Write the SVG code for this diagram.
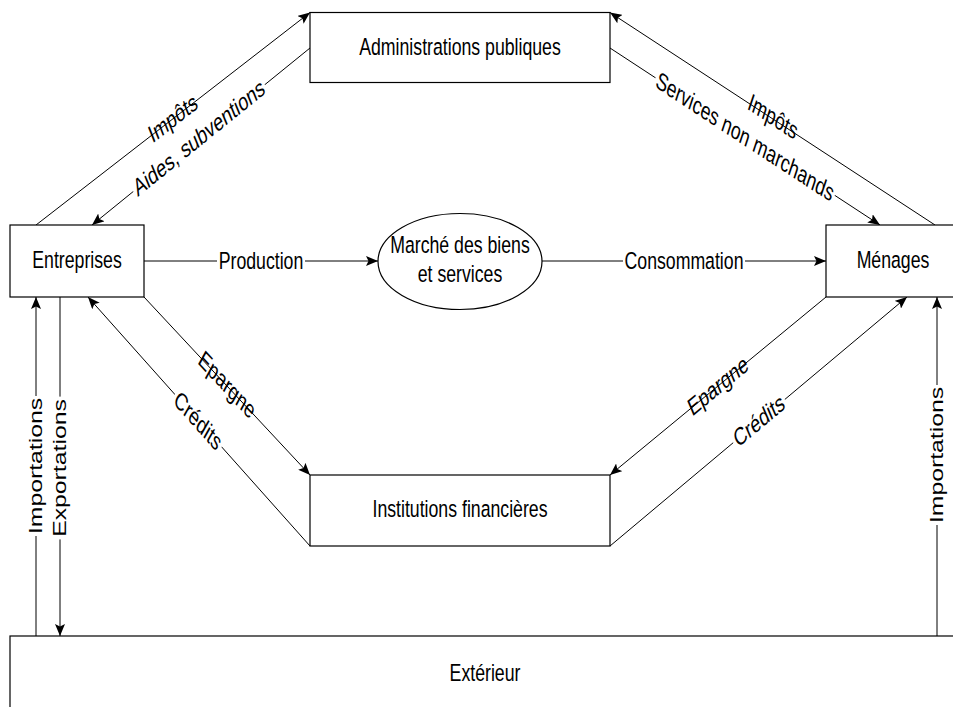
<svg xmlns="http://www.w3.org/2000/svg" width="953" height="707" viewBox="0 0 953 707">
<defs>
<marker id="arr" viewBox="0 0 12 10" refX="12" refY="5" markerWidth="12" markerHeight="10" markerUnits="userSpaceOnUse" orient="auto">
<path d="M0,0 L12,5 L0,10 L2.5,5 z" fill="#000"/>
</marker>
<style>
.box{fill:#fff;stroke:#000;stroke-width:1.2}
.edge{fill:none;stroke:#000;stroke-width:1;marker-end:url(#arr)}
text{font-family:"Liberation Sans",Arial,Helvetica,sans-serif;font-size:17.7px;fill:#000}
.lbl{text-anchor:middle;dominant-baseline:central}
.nt{text-anchor:middle}
.bg{fill:#fff;stroke:none}
</style>
</defs>
<rect width="953" height="707" fill="#fff"/>
<g id="connectors">
<path class="edge" d="M36,225 L310,12.5"/>
<path class="edge" d="M310,48 L92,225"/>
<path class="edge" d="M935,225 L610,12.5"/>
<path class="edge" d="M610,48 L880,225"/>
<path class="edge" d="M144,261 L378,261"/>
<path class="edge" d="M542,261 L826,261"/>
<path class="edge" d="M144,297 L310,475"/>
<path class="edge" d="M310,546 L88,297"/>
<path class="edge" d="M826,297 L610,475"/>
<path class="edge" d="M610,546 L907,297"/>
<path class="edge" d="M36,636 L36,297"/>
<path class="edge" d="M60,297 L60,636"/>
<path class="edge" d="M937,636 L937,297"/>
<g transform="translate(173,118.5) scale(1,1.4) rotate(-29)"><text class="lbl">Impôts</text></g>
<g transform="translate(199,138) scale(1,1.4) rotate(-30.1)"><rect class="bg" x="-76" y="-10" width="152" height="20"/><text class="lbl">Aides, subventions</text></g>
<g transform="translate(773,117) scale(1,1.4) rotate(25.3)"><text class="lbl">Impôts</text></g>
<g transform="translate(745,137) scale(1,1.4) rotate(25.1)"><rect class="bg" x="-99" y="-10" width="198" height="20"/><text class="lbl">Services non marchands</text></g>
<g transform="translate(227,385) scale(1,1.4) rotate(37.6)"><text class="lbl">Epargne</text></g>
<g transform="translate(198,421) scale(1,1.4) rotate(38.7)"><rect class="bg" x="-30" y="-10" width="60" height="20"/><text class="lbl">Crédits</text></g>
<g transform="translate(718,386) scale(1,1.4) rotate(-30.7)"><text class="lbl">Epargne</text></g>
<g transform="translate(759,421) scale(1,1.4) rotate(-31)"><rect class="bg" x="-30" y="-10" width="60" height="20"/><text class="lbl">Crédits</text></g>
<g transform="translate(261,261) scale(1,1.4)"><rect class="bg" x="-44" y="-10" width="88" height="20"/><text class="lbl">Production</text></g>
<g transform="translate(684,261) scale(1,1.4)"><rect class="bg" x="-61" y="-10" width="122" height="20"/><text class="lbl">Consommation</text></g>
<g transform="translate(36,466) scale(1,1.4) rotate(-90)"><rect class="bg" x="-50" y="-10" width="100" height="20"/><text class="lbl">Importations</text></g>
<g transform="translate(60,468) scale(1,1.4) rotate(-90)"><rect class="bg" x="-51" y="-10" width="102" height="20"/><text class="lbl">Exportations</text></g>
<g transform="translate(937,455) scale(1,1.4) rotate(-90)"><rect class="bg" x="-50" y="-10" width="100" height="20"/><text class="lbl">Importations</text></g>
</g>
<g id="admin">
<rect class="box" x="310" y="12.5" width="300" height="70"/>
<g transform="translate(460,55) scale(1,1.4)"><text class="nt">Administrations publiques</text></g>
</g>
<g id="entreprises">
<rect class="box" x="10" y="225" width="134" height="72"/>
<g transform="translate(77,268) scale(1,1.4)"><text class="nt">Entreprises</text></g>
</g>
<g id="menages">
<rect class="box" x="826" y="225" width="134" height="72"/>
<g transform="translate(893,268) scale(1,1.4)"><text class="nt">Ménages</text></g>
</g>
<g id="marche">
<ellipse class="box" cx="460" cy="261.5" rx="82" ry="48"/>
<g transform="translate(460,253) scale(1,1.4)"><text class="nt"><tspan x="0" y="0">Marché des biens</tspan><tspan x="0" y="20.7">et services</tspan></text></g>
</g>
<g id="institutions">
<rect class="box" x="310" y="475" width="300" height="71"/>
<g transform="translate(460,517) scale(1,1.4)"><text class="nt">Institutions financières</text></g>
</g>
<g id="exterieur">
<rect class="box" x="10" y="636" width="950" height="75"/>
<g transform="translate(485,681) scale(1,1.4)"><text class="nt">Extérieur</text></g>
</g>
</svg>
